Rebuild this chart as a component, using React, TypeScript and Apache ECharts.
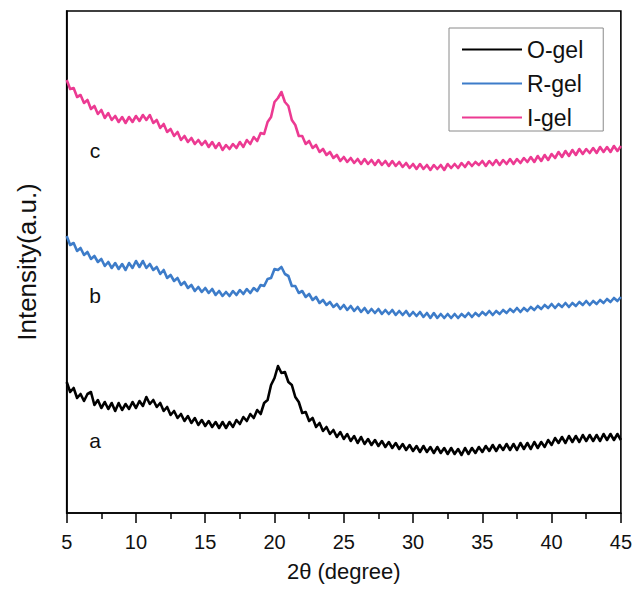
import React, { useEffect, useRef } from "react";
import * as echarts from "echarts";

// 2θ grid: 5° to 45° in 0.25° steps (161 samples)
const twoTheta: number[] = Array.from({ length: 161 }, (_, i) => 5 + i * 0.25);

const xTicks = [5, 10, 15, 20, 25, 30, 35, 40, 45];

// Intensities (a.u., curves offset vertically as in the figure)
// O-gel (black, curve a)
const oGel: number[] = [
  131, 121, 125, 115, 119, 112, 119, 121, 108, 113, 105, 111, 104, 110, 102, 110,
  103, 109, 104, 111, 105, 112, 107, 116, 109, 113, 106, 110, 102, 106, 98, 102,
  95, 99, 92, 97, 90, 95, 88, 93, 87, 92, 86, 91, 85, 91, 85, 91,
  86, 93, 89, 96, 92, 99, 95, 103, 99, 110, 113, 128, 135, 147, 140, 141,
  131, 128, 116, 111, 100, 101, 92, 95, 86, 90, 82, 86, 79, 83, 76, 81,
  74, 79, 72, 77, 70, 76, 69, 74, 68, 73, 67, 72, 66, 71, 65, 70,
  64, 69, 63, 68, 62, 67, 61, 67, 61, 66, 60, 66, 60, 65, 59, 65,
  59, 64, 58, 65, 59, 65, 60, 66, 61, 67, 62, 68, 62, 68, 63, 69,
  63, 69, 63, 70, 64, 70, 64, 71, 65, 71, 66, 73, 68, 75, 70, 76,
  70, 77, 71, 77, 71, 78, 72, 78, 72, 78, 72, 79, 73, 79, 73, 79,
  73,
];

// R-gel (blue, curve b)
const rGel: number[] = [
  277, 268, 270, 262, 265, 258, 261, 254, 257, 251, 254, 247, 251, 245, 250, 244,
  249, 243, 250, 245, 252, 246, 252, 245, 249, 243, 246, 239, 243, 235, 238, 232,
  235, 228, 231, 225, 228, 222, 226, 221, 225, 220, 224, 218, 222, 217, 221, 217,
  222, 218, 223, 219, 224, 220, 225, 222, 228, 227, 234, 235, 244, 243, 246, 239,
  237, 227, 227, 220, 222, 216, 219, 213, 216, 210, 213, 208, 211, 206, 209, 204,
  208, 203, 207, 202, 206, 201, 205, 200, 204, 200, 204, 199, 203, 199, 203, 198,
  202, 198, 202, 197, 201, 197, 201, 196, 200, 195, 200, 195, 199, 195, 199, 195,
  199, 195, 199, 196, 200, 196, 200, 197, 201, 198, 202, 198, 202, 199, 203, 200,
  204, 201, 205, 201, 205, 202, 206, 203, 207, 204, 208, 205, 209, 205, 209, 206,
  210, 206, 210, 207, 211, 208, 212, 208, 212, 209, 213, 210, 214, 211, 215, 212,
  216,
];

// I-gel (pink, curve c)
const iGel: number[] = [
  433, 424, 425, 416, 418, 410, 413, 404, 407, 399, 403, 395, 400, 393, 397, 391,
  396, 390, 396, 391, 397, 392, 398, 393, 398, 390, 393, 385, 389, 381, 384, 377,
  381, 373, 377, 371, 375, 369, 373, 368, 372, 366, 371, 365, 370, 363, 368, 364,
  369, 365, 371, 366, 373, 369, 376, 372, 380, 379, 391, 396, 411, 415, 421, 411,
  407, 393, 388, 377, 377, 369, 372, 365, 368, 361, 364, 358, 361, 355, 358, 352,
  356, 351, 355, 350, 354, 349, 354, 349, 353, 348, 353, 348, 352, 347, 352, 347,
  351, 346, 350, 345, 349, 344, 349, 344, 348, 343, 348, 344, 348, 343, 349, 345,
  349, 345, 350, 346, 351, 347, 351, 348, 352, 347, 352, 348, 353, 348, 353, 349,
  354, 349, 354, 350, 355, 351, 356, 351, 357, 352, 358, 353, 359, 355, 361, 356,
  362, 357, 363, 358, 364, 359, 364, 360, 365, 360, 366, 361, 366, 361, 367, 362,
  367,
];

const seriesNames = ["O-gel", "R-gel", "I-gel"];
const curveLetters = ["a", "b", "c"];
const letterAnchors: [number, number][] = [
  [7.05, 73],
  [7.05, 218],
  [7.05, 363],
];
const colors = ["#000000", "#3D7CC9", "#EC3A92"];

const FONT = "'Liberation Sans', Arial, sans-serif";

export default function App() {
  const ref = useRef<HTMLDivElement>(null);

  useEffect(() => {
    if (!ref.current) return;
    const chart = echarts.init(ref.current, undefined, { renderer: "svg" });
    const datasets = [oGel, rGel, iGel];

    chart.setOption({
      animation: false,
      backgroundColor: "#ffffff",
      textStyle: { fontFamily: FONT },
      grid: {
        left: 66.7,
        right: 13.3,
        top: 11,
        bottom: 78,
        show: true,
        borderColor: "#000",
        borderWidth: 1.6,
        backgroundColor: "transparent",
      },
      legend: {
        show: true,
        orient: "vertical",
        left: 449,
        top: 28,
        padding: [10, 20, 2, 13],
        itemGap: 11,
        itemWidth: 60,
        itemHeight: 2,
        itemTextGap: 7,
        icon: "rect",
        borderColor: "#8a8a8a",
        borderWidth: 1,
        backgroundColor: "#fff",
        textStyle: { fontSize: 23, color: "#111", fontFamily: FONT },
        data: seriesNames,
      },
      xAxis: {
        type: "value",
        min: 5,
        max: 45,
        interval: 5,
        name: "2θ (degree)",
        nameLocation: "middle",
        nameGap: 47,
        nameTextStyle: { fontSize: 22, color: "#111", fontFamily: FONT },
        axisLine: { show: true, onZero: false, lineStyle: { color: "#000", width: 1.6 } },
        axisTick: { show: true, inside: false, length: 10, lineStyle: { color: "#000", width: 1.5 } },
        minorTick: { show: true, splitNumber: 2, length: 6, lineStyle: { color: "#000", width: 1.5 } },
        axisLabel: {
          show: true,
          margin: 19,
          fontSize: 20,
          color: "#111",
          fontFamily: FONT,
          customValues: xTicks,
        },
        splitLine: { show: false },
      },
      yAxis: {
        type: "value",
        min: 0,
        max: 502,
        name: "Intensity(a.u.)",
        nameLocation: "middle",
        nameGap: 27,
        nameRotate: 90,
        nameTextStyle: { fontSize: 26, color: "#111", fontFamily: FONT },
        axisLine: { show: true, lineStyle: { color: "#000", width: 1.6 } },
        axisTick: { show: false },
        axisLabel: { show: false },
        splitLine: { show: false },
      },
      series: datasets.map((vals, k) => ({
        name: seriesNames[k],
        type: "line",
        data: twoTheta.map((t, i) => [t, vals[i]]),
        showSymbol: false,
        symbol: "none",
        color: colors[k],
        lineStyle: { color: colors[k], width: 2.6, join: "round" },
        z: 3,
        markPoint: {
          symbol: "circle",
          symbolSize: 0,
          silent: true,
          label: {
            show: true,
            position: "inside",
            formatter: curveLetters[k],
            fontSize: 21,
            color: "#111",
            fontFamily: FONT,
          },
          data: [{ coord: letterAnchors[k] }],
        },
      })),
    });

    return () => chart.dispose();
  }, []);

  return (
    <div
      ref={ref}
      style={{ position: "fixed", left: 0, top: 0, width: 635, height: 591, background: "#fff" }}
    />
  );
}
